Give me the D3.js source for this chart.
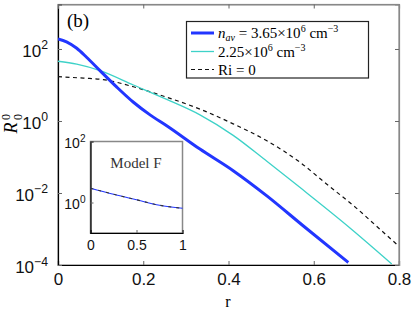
<!DOCTYPE html>
<html>
<head>
<meta charset="utf-8">
<script src="https://cdn.jsdelivr.net/npm/d3@7"></script>
<style>
  html, body { margin: 0; padding: 0; background: #fff; }
  svg { display: block; }
  .tick text { font-family: "Liberation Sans", Arial, sans-serif; }
</style>
</head>
<body>
<div id="chart"></div>
<script>
const width = 415;
const height = 311;

// series: r and log10(R)
const rHigh = [0, 0.02, 0.044, 0.067, 0.0985, 0.138, 0.177, 0.216, 0.255, 0.333, 0.411, 0.49, 0.575, 0.681];
const logHigh = [2.28, 2.2, 2.02, 1.77, 1.4, 0.94, 0.52, 0.17, -0.13, -0.78, -1.38, -2.08, -2.91, -3.93];

const rLow = [0, 0.044, 0.0985, 0.177, 0.255, 0.333, 0.411, 0.49, 0.568, 0.685, 0.783];
const logLow = [1.66, 1.58, 1.4, 1.0, 0.6, 0.17, -0.4, -1.12, -1.85, -2.97, -3.97];

const rRi = [0, 0.06, 0.106, 0.177, 0.255, 0.333, 0.411, 0.49, 0.568, 0.63, 0.7, 0.75, 0.798];
const logRi = [1.23, 1.19, 1.15, 0.95, 0.66, 0.33, -0.08, -0.55, -1.15, -1.75, -2.42, -2.95, -3.46];

// inset (Model F)
const rInset = [0, 0.25, 0.5, 0.75, 1];
const logInset = [0.47, 0.27, 0.09, -0.09, -0.19];

const xTicks = [0, 0.2, 0.4, 0.6, 0.8];
const yTickExp = [-4, -2, 0, 2];
const insetXTicks = [0, 0.5, 1];
const insetYTickExp = [0, 2];

const blue = "#2236ff";
const cyan = "#3ed2c8";

const svg = d3.select("#chart").append("svg")
  .attr("width", width)
  .attr("height", height);

const x = d3.scaleLinear().domain([0, 0.8]).range([58, 399]);
const y = d3.scaleLog().domain([1e-4, 1720]).range([265, 4.5]);

// frame
svg.append("rect")
  .attr("x", x.range()[0]).attr("y", y.range()[1])
  .attr("width", x.range()[1] - x.range()[0])
  .attr("height", y.range()[0] - y.range()[1])
  .attr("fill", "none").attr("stroke", "#888").attr("stroke-width", 1.2);

function supLabel(sel, exps, size) {
  sel.each(function (d, i) {
    const t = d3.select(this).text(null);
    t.append("tspan").text("10");
    t.append("tspan").attr("dy", -size * 0.45).attr("font-size", size * 0.72)
      .text(String(exps[i]).replace("-", "\u2212"));
  });
}

// axes
const xAxis = d3.axisBottom(x).tickValues(xTicks).tickSize(-4).tickPadding(8)
  .tickFormat(d => d === 0 ? "0" : d3.format(".1f")(d));
const gx = svg.append("g").attr("transform", `translate(0,${y.range()[0]})`).call(xAxis);
gx.selectAll("text").attr("font-size", 17).attr("fill", "#111");

const yAxis = d3.axisLeft(y).tickValues(yTickExp.map(e => Math.pow(10, e))).tickSize(-4).tickPadding(10);
const gy = svg.append("g").attr("transform", `translate(${x.range()[0]},0)`).call(yAxis);
gy.selectAll("text").attr("font-size", 17).attr("fill", "#111").attr("dy", "0.45em");
supLabel(gy.selectAll("text"), yTickExp, 17);

// mirrored ticks
const gTop = svg.append("g").attr("transform", `translate(0,${y.range()[1]})`)
  .call(d3.axisTop(x).tickValues(xTicks).tickSize(-4).tickFormat(""));
const gRight = svg.append("g").attr("transform", `translate(${x.range()[1]},0)`)
  .call(d3.axisRight(y).tickValues(yTickExp.map(e => Math.pow(10, e))).tickSize(-4).tickFormat(""));

[gx, gy].forEach(g => g.select(".domain").attr("stroke", "#000").attr("stroke-width", 1.2));
[gTop, gRight].forEach(g => g.select(".domain").attr("stroke", "#888").attr("stroke-width", 1.2));
svg.selectAll(".tick line").attr("stroke", "#666");

const line = d3.line().curve(d3.curveMonotoneX)
  .x(d => x(d[0])).y(d => y(Math.pow(10, d[1])));

svg.append("clipPath").attr("id", "clip").append("rect")
  .attr("x", 58).attr("y", 4.5).attr("width", 341).attr("height", 260.5);

const plot = svg.append("g").attr("clip-path", "url(#clip)");

plot.append("path").datum(d3.zip(rRi, logRi)).attr("d", line)
  .attr("fill", "none").attr("stroke", "#111").attr("stroke-width", 1.2)
  .attr("stroke-dasharray", "4,3.5");
plot.append("path").datum(d3.zip(rLow, logLow)).attr("d", line)
  .attr("fill", "none").attr("stroke", cyan).attr("stroke-width", 1.3);
plot.append("path").datum(d3.zip(rHigh, logHigh)).attr("d", line)
  .attr("fill", "none").attr("stroke", blue).attr("stroke-width", 3);

// panel tag
svg.append("text").attr("x", 67).attr("y", 27)
  .attr("font-family", "Liberation Serif, serif").attr("font-size", 19).text("(b)");

// axis titles
svg.append("text").attr("x", 228).attr("y", 307).attr("text-anchor", "middle")
  .attr("font-family", "Liberation Serif, serif").attr("font-size", 16).text("r");

const yl = svg.append("g").attr("transform", "translate(17,124) rotate(-90)");
yl.append("text").attr("font-family", "Liberation Serif, serif").attr("font-style", "italic")
  .attr("font-size", 18).attr("text-anchor", "middle").attr("x", -4).text("R");
yl.append("text").attr("font-family", "Liberation Serif, serif").attr("font-size", 12)
  .attr("x", 4).attr("y", -7).text("0");
yl.append("text").attr("font-family", "Liberation Serif, serif").attr("font-size", 12)
  .attr("x", 4).attr("y", 5).text("0");

// legend
const legend = svg.append("g");
legend.append("rect").attr("x", 186.5).attr("y", 21.5).attr("width", 182).attr("height", 56.5)
  .attr("fill", "#fff").attr("stroke", "#222").attr("stroke-width", 1.2);
const rows = [
  { color: blue, w: 3, dash: null, yy: 33 },
  { color: cyan, w: 1.3, dash: null, yy: 51.5 },
  { color: "#111", w: 1.2, dash: "4,3", yy: 69.5 }
];
rows.forEach(r => {
  legend.append("line").attr("x1", 191).attr("x2", 214).attr("y1", r.yy).attr("y2", r.yy)
    .attr("stroke", r.color).attr("stroke-width", r.w).attr("stroke-dasharray", r.dash);
});
const lf = "Liberation Serif, serif";
const t1 = legend.append("text").attr("x", 218).attr("y", 38).attr("font-family", lf).attr("font-size", 15);
t1.append("tspan").attr("font-style", "italic").text("n");
t1.append("tspan").attr("font-style", "italic").attr("font-size", 10).attr("dy", 3).text("av");
t1.append("tspan").attr("dy", -3).text(" = 3.65\u00d710");
t1.append("tspan").attr("font-size", 10).attr("dy", -6).text("6");
t1.append("tspan").attr("dy", 6).text(" cm");
t1.append("tspan").attr("font-size", 10).attr("dy", -6).text("\u22123");

const t2 = legend.append("text").attr("x", 218).attr("y", 56.5).attr("font-family", lf).attr("font-size", 15);
t2.append("tspan").text("2.25\u00d710");
t2.append("tspan").attr("font-size", 10).attr("dy", -6).text("6");
t2.append("tspan").attr("dy", 6).text(" cm");
t2.append("tspan").attr("font-size", 10).attr("dy", -6).text("\u22123");

legend.append("text").attr("x", 218).attr("y", 74.5).attr("font-family", lf).attr("font-size", 15)
  .text("Ri = 0");

// inset
const ix = d3.scaleLinear().domain([0, 1]).range([90.5, 182.5]);
const iy = d3.scaleLog().domain([0.1, 100]).range([233, 141.5]);

svg.append("rect").attr("x", 90.5).attr("y", 141.5).attr("width", 92).attr("height", 91.5)
  .attr("fill", "#fff").attr("stroke", "#888").attr("stroke-width", 1.5);

const igx = svg.append("g").attr("transform", "translate(0,233)")
  .call(d3.axisBottom(ix).tickValues(insetXTicks).tickSize(-3).tickPadding(7)
    .tickFormat(d => d === 0.5 ? "0.5" : String(d)));
igx.selectAll("text").attr("font-size", 14).attr("fill", "#111");
const igy = svg.append("g").attr("transform", "translate(90.5,0)")
  .call(d3.axisLeft(iy).tickValues(insetYTickExp.map(e => Math.pow(10, e))).tickSize(-3).tickPadding(5));
igy.selectAll("text").attr("font-size", 14).attr("fill", "#111").attr("dy", "0.45em");
supLabel(igy.selectAll("text"), insetYTickExp, 14);
[igx, igy].forEach(g => g.select(".domain").attr("stroke", "#000").attr("stroke-width", 1.2));
svg.selectAll(".tick line").attr("stroke", "#666");

svg.append("text").attr("x", 136).attr("y", 168).attr("text-anchor", "middle")
  .attr("font-family", lf).attr("font-size", 15).attr("fill", "#333").text("Model F");

const iline = d3.line().curve(d3.curveMonotoneX)
  .x(d => ix(d[0])).y(d => iy(Math.pow(10, d[1])));
svg.append("path").datum(d3.zip(rInset, logInset)).attr("d", iline)
  .attr("fill", "none").attr("stroke", blue).attr("stroke-width", 1.1);
svg.append("path").datum(d3.zip(rInset, logInset)).attr("d", iline)
  .attr("fill", "none").attr("stroke", "#333").attr("stroke-width", 1.1).attr("stroke-dasharray", "3,5");
</script>
</body>
</html>
